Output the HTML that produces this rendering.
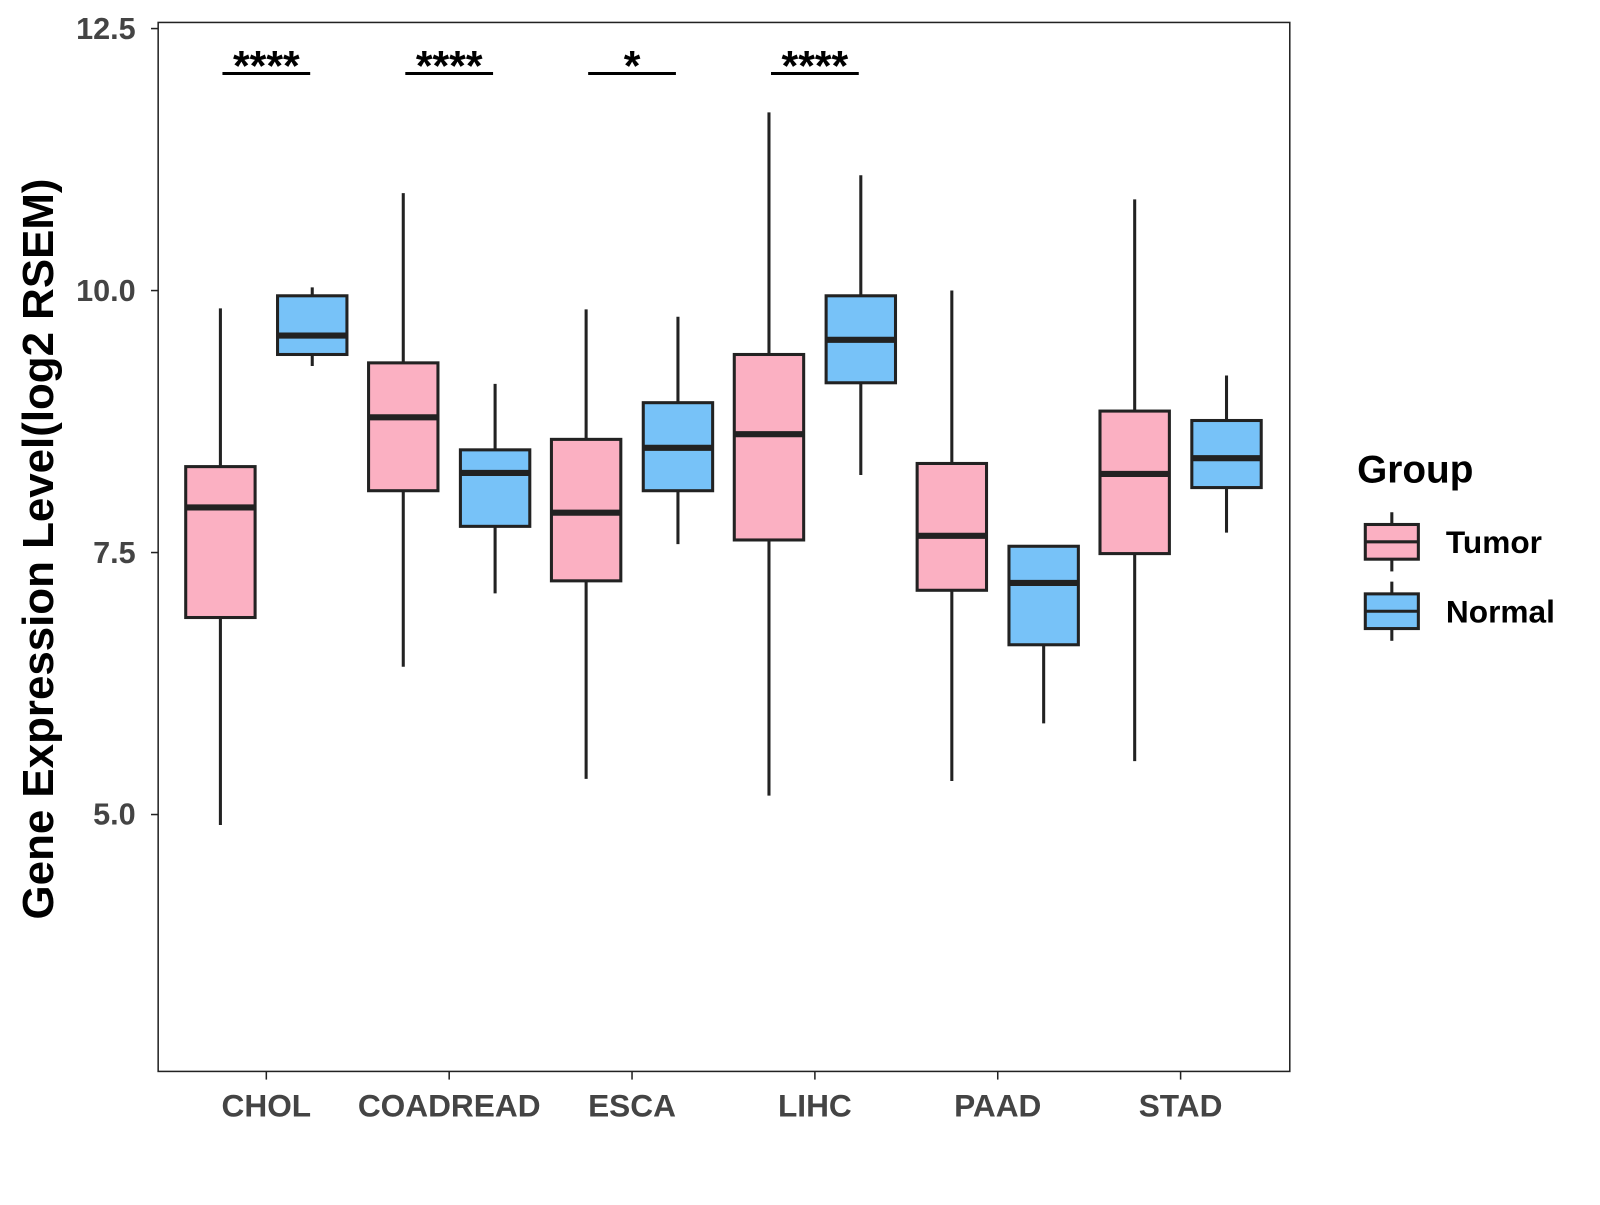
<!DOCTYPE html>
<html><head><meta charset="utf-8"><style>
body{margin:0;background:#fff;width:1600px;height:1200px;overflow:hidden}
text{font-family:"Liberation Sans",Arial,sans-serif;font-weight:bold}
</style></head><body>
<svg id="chart" width="1600" height="1200" xmlns="http://www.w3.org/2000/svg">
<g transform="scale(1.0204)">
<rect x="155" y="22" width="1109" height="1028" fill="none" stroke="#222" stroke-width="1.5"/>
<text transform="translate(52,538) rotate(-90)" text-anchor="middle" font-size="43" fill="#000">Gene Expression Level(log2 RSEM)</text>
<text x="1330" y="473" font-size="38" fill="#000">Group</text>
<g id="plot"></g>
</g>
</svg>
<script>
const categories=["CHOL","COADREAD","ESCA","LIHC","PAAD","STAD"];
const tumorStats=[[4.90,6.88,7.93,8.32,9.83],[6.41,8.09,8.79,9.31,10.93],[5.34,7.23,7.88,8.58,9.82],[5.18,7.62,8.63,9.39,11.70],[5.32,7.14,7.66,8.35,10.00],[5.51,7.49,8.25,8.85,10.87]];
const normalStats=[[9.28,9.39,9.57,9.95,10.03],[7.11,7.75,8.26,8.48,9.11],[7.58,8.09,8.50,8.93,9.75],[8.24,9.12,9.53,9.95,11.10],[5.87,6.62,7.21,7.56,7.56],[7.69,8.12,8.40,8.76,9.19]];
const signif=["****","****","*","****","",""];
const yTicks=[5.0,7.5,10.0,12.5];
const yTickLabels=["5.0","7.5","10.0","12.5"];
const NS="http://www.w3.org/2000/svg";
const g=document.getElementById('plot');
function y(v){return 28+(12.5-v)*102.7;}
function x(i){return 261+i*179.2;}
function mk(tag,attrs,parent){const e=document.createElementNS(NS,tag);for(const k in attrs)e.setAttribute(k,attrs[k]);(parent||g).appendChild(e);return e;}
yTicks.forEach((t,i)=>{
 const l=mk('line',{x1:148,x2:155,y1:y(t),y2:y(t),stroke:'#222','stroke-width':1.5});
 
 
 const tx=mk('text',{x:133,y:y(t)+10,'text-anchor':'end','font-size':30,fill:'#444'});
 tx.textContent=yTickLabels[i];
 
 
});
function box(s,cx,fill,name){
 const grp=mk('g',{});
 
 
 mk('line',{x1:cx,x2:cx,y1:y(s[4]),y2:y(s[0]),stroke:'#222','stroke-width':3},grp);
 mk('rect',{x:cx-34,y:y(s[3]),width:68,height:y(s[1])-y(s[3]),fill:fill,stroke:'#222','stroke-width':3},grp);
 mk('line',{x1:cx-34,x2:cx+34,y1:y(s[2]),y2:y(s[2]),stroke:'#222','stroke-width':6},grp);
}
categories.forEach((c,i)=>{
 const cx=x(i);
 box(tumorStats[i],cx-45,'#FBB0C2','box-tumor-'+c.toLowerCase());
 box(normalStats[i],cx+45,'#77C2F8','box-normal-'+c.toLowerCase());
 const t=mk('line',{x1:cx,x2:cx,y1:1050,y2:1058,stroke:'#222','stroke-width':1.5});
 
 
 const lb=mk('text',{x:cx,y:1094,'text-anchor':'middle','font-size':31,fill:'#444'});
 lb.textContent=c;
 
 
 if(signif[i]){
  const sl=mk('line',{x1:cx-43,x2:cx+43,y1:72,y2:72,stroke:'#000','stroke-width':3});
  
  
  const st=mk('text',{x:cx,y:79,'text-anchor':'middle','font-size':42,fill:'#000'});
  st.textContent=signif[i];
  
  
 }
});
[["Tumor","#FBB0C2",531],["Normal","#77C2F8",599]].forEach(([n,f,cy])=>{
 const lg=mk('g',{});
 
 
 mk('line',{x1:1364,x2:1364,y1:cy-29,y2:cy+29,stroke:'#222','stroke-width':3},lg);
 mk('rect',{x:1338,y:cy-17,width:52,height:34,fill:f,stroke:'#222','stroke-width':3},lg);
 mk('line',{x1:1338,x2:1390,y1:cy,y2:cy,stroke:'#222','stroke-width':3},lg);
 const t=mk('text',{x:1417,y:cy+11,'font-size':31,fill:'#000'},lg);
 t.textContent=n;
});
</script>
</body></html>
